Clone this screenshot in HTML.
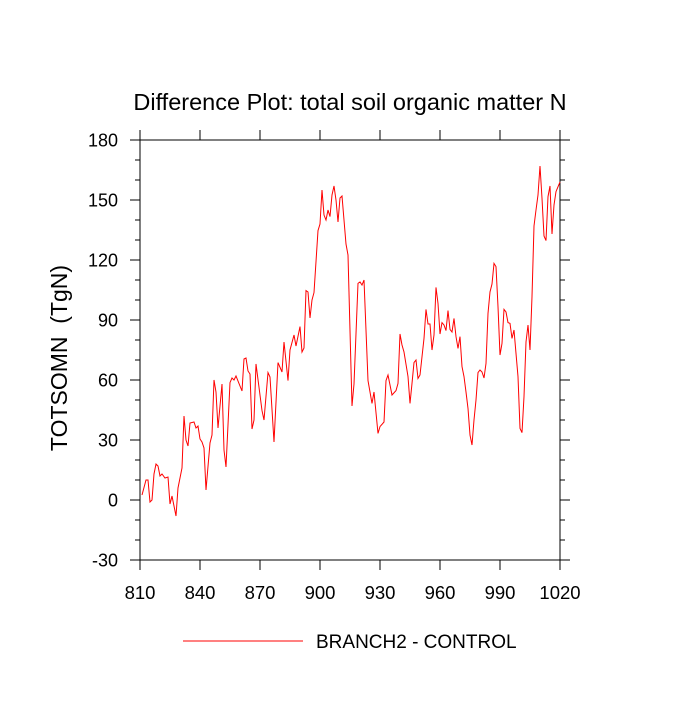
<!DOCTYPE html>
<html><head><meta charset="utf-8"><style>
html,body{margin:0;padding:0;background:#fff;}
svg text{font-family:"Liberation Sans",sans-serif;fill:#000;}
</style></head><body>
<svg id="chart" width="700" height="700" xmlns="http://www.w3.org/2000/svg">
<text x="350" y="110" font-size="23.5" text-anchor="middle">Difference Plot: total soil organic matter N</text>
<text transform="translate(67,358) rotate(-90)" font-size="23" text-anchor="middle" xml:space="preserve">TOTSOMN  (TgN)</text>
<g id="axes"></g>
<g id="series"></g>
<line x1="183" y1="641" x2="303" y2="641" stroke="#ff0000" stroke-width="1"/>
<text x="316" y="648" font-size="19">BRANCH2 - CONTROL</text>
</svg>
<script>
const years=[811,813,814,815,816,817,818,819,820,821,822.5,824,825,826,828,829,831,832,833,834,835,837,838,839,840,841,842,843,845,846,847,848,849,851,852,853,855,856,857,858,861,862,863,864,865,866,867,868,871,872,874,875,877,879,881,882,884,885,887,888,890,891,892,893,894,895,896,897,899,900,901,902,903,904,905,906,907,908,909,910,911,913,914,916,917,919,920,921,922,924,926,927,929,930,932,933,934,936,938,939,940,941,942,944,945,946,947,948,949,950,952,953,954,955,956,957,958,959,960,961,962,963,964,965,966,967,968,969,970,971,972,973,974,975,976,977,978,979,980,981,982,983,984,985,986,987,988,989,990,991,992,993,994,995,996,997,998,999,1000,1001,1002,1003,1004,1005,1006,1007,1008,1009,1010,1011,1012,1013,1014,1015,1016,1017,1018,1020];
const values=[2.5,10,10,-1,0,13,18,17,12,13,11,11.5,-2,2,-8,6,16,42,30,27,38.5,39,36,37,30.5,29,26,5,28.5,32.5,60,54,36,58,25,16.5,58.7,61,60,62,54.5,70.5,71,64.5,63,35.5,40,68,44.7,40,63.7,61.5,29,68.7,64,79,59.7,75,82.5,77,86.7,74,76,104.7,104,91,100,103.7,134.7,138,155,142.5,140,145,141.7,152.5,157,150,139,151,152,128,122.5,47,58,108.3,109,107.5,110,59.7,48.3,54,33.3,36.7,39,59.7,62.5,52.5,54.7,58.3,83,77.5,74,61.7,48.3,58.3,68.7,70,60.8,62.5,80.8,95.3,88,88,75,82.5,106.3,98.3,83,88.7,87.5,84.7,94.7,85.3,84,90.8,81.7,75.8,81.7,66.7,61.7,54,45.8,32.5,27.5,40,50,63.7,65,64,61,68.3,93.3,104,108,118.3,116.7,96.7,72.5,78.3,95.3,94,88.7,88.3,80.8,85,73.3,61.7,35.8,33.7,51.7,79,87.5,75,101.7,137,145,152.5,167,150.8,132,129.7,151.7,157,133,147.5,154.2,159];
const xTicks=[810,840,870,900,930,960,990,1020];
const yTicks=[-30,0,30,60,90,120,150,180];
const NS='http://www.w3.org/2000/svg';
const L=140,R=560,T=140,B=560;
function xs(v){return L+(v-810)/(1020-810)*(R-L);}
function ys(v){return B-(v+30)/(180+30)*(B-T);}
const ax=document.getElementById('axes');
function mk(tag,attrs,parent){const e=document.createElementNS(NS,tag);for(const k in attrs)e.setAttribute(k,attrs[k]);parent.appendChild(e);return e;}
const frame=mk('rect',{x:L,y:T,width:R-L,height:B-T,fill:'none',stroke:'#000','stroke-width':1},ax);


xTicks.forEach(t=>{const x=xs(t);
 mk('line',{x1:x,y1:B,x2:x,y2:B+10,stroke:'#000'},ax);
 mk('line',{x1:x,y1:T,x2:x,y2:T-10,stroke:'#000'},ax);
 const tx=mk('text',{x:x,y:599,'font-size':18.5,'text-anchor':'middle'},ax);tx.textContent=t;
 
 });
for(let v=-30;v<=180;v+=10){const y=ys(v);const major=yTicks.includes(v);const len=major?10:5;
 mk('line',{x1:L,y1:y,x2:L-len,y2:y,stroke:'#000'},ax);
 mk('line',{x1:R,y1:y,x2:R+len,y2:y,stroke:'#000'},ax);}
yTicks.forEach(t=>{const tx=mk('text',{x:118,y:ys(t)+6.5,'font-size':18,'text-anchor':'end'},ax);tx.textContent=t;
 
 });
const pts=years.map((y,i)=>xs(y).toFixed(1)+','+ys(values[i]).toFixed(1)).join(' ');
const line=mk('polyline',{points:pts,fill:'none',stroke:'#ff0000','stroke-width':1},document.getElementById('series'));


</script>
</body></html>
